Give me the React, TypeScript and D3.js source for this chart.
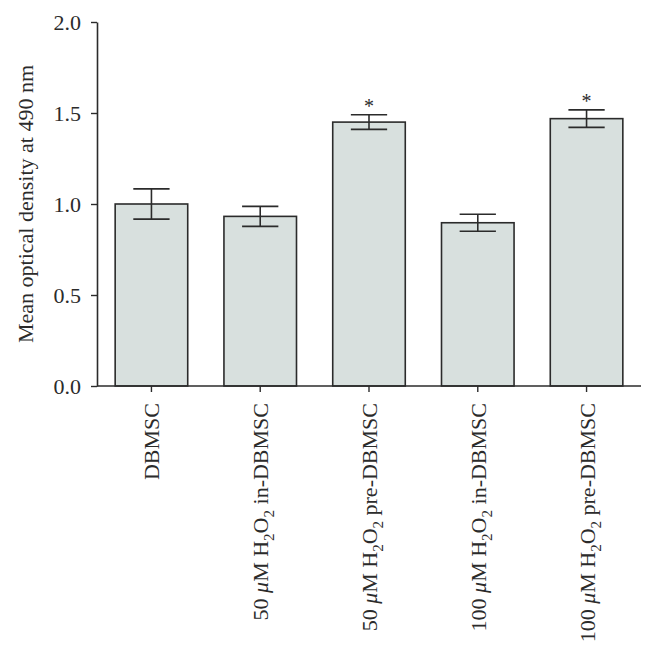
import React, { useEffect, useRef } from 'react';
import { select, scaleBand, scaleLinear, axisLeft, axisBottom } from 'd3';

// groups, with dose prefix and treatment suffix for the rotated labels
const groups = ['DBMSC', '50in', '50pre', '100in', '100pre'];
const doses = ['', '50', '50', '100', '100'];
const suffixes = ['DBMSC', 'in-DBMSC', 'pre-DBMSC', 'in-DBMSC', 'pre-DBMSC'];
const means = [1.0, 0.932, 1.45, 0.897, 1.469];
const errors = [0.083, 0.055, 0.04, 0.047, 0.048];
const significant = [false, false, true, false, true];
const yTicks = [0, 0.5, 1.0, 1.5, 2.0];

const App = () => {
  const svgRef = useRef<SVGSVGElement>(null);

  useEffect(() => {
    const width = 656;
    const height = 653;
    const margin = { top: 22, right: 15, bottom: 267, left: 97 };
    const font = '"Liberation Serif", "DejaVu Serif", serif';
    const ink = '#2b2b2b';
    const fs = 22;

    const svg = select(svgRef.current);
    svg.selectAll('*').remove();
    svg.attr('width', width).attr('height', height);

    const x = scaleBand()
      .domain(groups)
      .range([margin.left, width - margin.right])
      .paddingInner(0.333)
      .paddingOuter(0.167);

    const y = scaleLinear()
      .domain([0, 2])
      .range([height - margin.bottom, margin.top]);

    // bars
    svg.append('g')
      .selectAll('rect')
      .data(groups)
      .enter().append('rect')
      .attr('x', d => x(d))
      .attr('y', (d, i) => y(means[i]))
      .attr('width', x.bandwidth())
      .attr('height', (d, i) => y(0) - y(means[i]))
      .attr('fill', '#d8e0de')
      .attr('stroke', ink)
      .attr('stroke-width', 1.6);

    // error bars
    const capW = x.bandwidth() / 2;
    const eb = svg.append('g').attr('stroke', ink).attr('stroke-width', 1.6);
    groups.forEach((g, i) => {
      const cx = x(g) + x.bandwidth() / 2;
      const hi = y(means[i] + errors[i]);
      const lo = y(means[i] - errors[i]);
      eb.append('line').attr('x1', cx).attr('x2', cx).attr('y1', hi).attr('y2', lo);
      eb.append('line').attr('x1', cx - capW / 2).attr('x2', cx + capW / 2).attr('y1', hi).attr('y2', hi);
      eb.append('line').attr('x1', cx - capW / 2).attr('x2', cx + capW / 2).attr('y1', lo).attr('y2', lo);
      if (significant[i]) {
        svg.append('text')
          .attr('x', cx)
          .attr('y', hi - 2)
          .attr('text-anchor', 'middle')
          .style('font-family', font)
          .style('font-size', '20px')
          .attr('fill', ink)
          .text('*');
      }
    });

    // y axis
    const yAxis = svg.append('g')
      .attr('transform', `translate(${margin.left},0)`)
      .call(axisLeft(y).tickValues(yTicks).tickFormat(d => (+d).toFixed(1)).tickSize(6).tickSizeOuter(0));
    yAxis.select('.domain').attr('stroke', ink).attr('stroke-width', 1.6);
    yAxis.selectAll('.tick line').attr('stroke', ink).attr('stroke-width', 1.4);
    yAxis.selectAll('.tick text')
      .attr('x', -16)
      .attr('fill', ink)
      .style('font-family', font)
      .style('font-size', fs + 'px');

    // x axis
    const xAxis = svg.append('g')
      .attr('transform', `translate(0,${y(0)})`)
      .call(axisBottom(x).tickSize(6).tickSizeOuter(0).tickFormat(() => ''));
    xAxis.select('.domain').attr('stroke', ink).attr('stroke-width', 1.6)
      .attr('d', `M${margin.left},0H${width - margin.right}`);
    xAxis.selectAll('.tick line').attr('stroke', ink).attr('stroke-width', 1.4);

    // rotated x labels with subscripts
    groups.forEach((g, i) => {
      const cx = x(g) + x.bandwidth() / 2;
      const t = svg.append('text')
        .attr('transform', `translate(${cx + 8},${y(0) + 17}) rotate(-90)`)
        .attr('text-anchor', 'end')
        .attr('fill', ink)
        .style('font-family', font)
        .style('font-size', fs + 'px');
      if (!doses[i]) {
        t.text(suffixes[i]);
        return;
      }
      t.append('tspan').text(doses[i] + ' ');
      t.append('tspan').style('font-style', 'italic').text('\u03bc');
      t.append('tspan').text('M H');
      t.append('tspan').attr('dy', 6).style('font-size', '15px').text('2');
      t.append('tspan').attr('dy', -6).text('O');
      t.append('tspan').attr('dy', 6).style('font-size', '15px').text('2');
      t.append('tspan').attr('dy', -6).text(' ' + suffixes[i]);
    });

    // y label
    svg.append('text')
      .attr('transform', `translate(33,${(y(0) + y(2)) / 2}) rotate(-90)`)
      .attr('text-anchor', 'middle')
      .attr('fill', ink)
      .style('font-family', font)
      .style('font-size', fs + 'px')
      .text('Mean optical density at 490 nm');
  }, []);

  return (
    <svg ref={svgRef} style={{ position: 'absolute', left: 0, top: 0, background: '#fff' }}></svg>
  );
};

export default App;
